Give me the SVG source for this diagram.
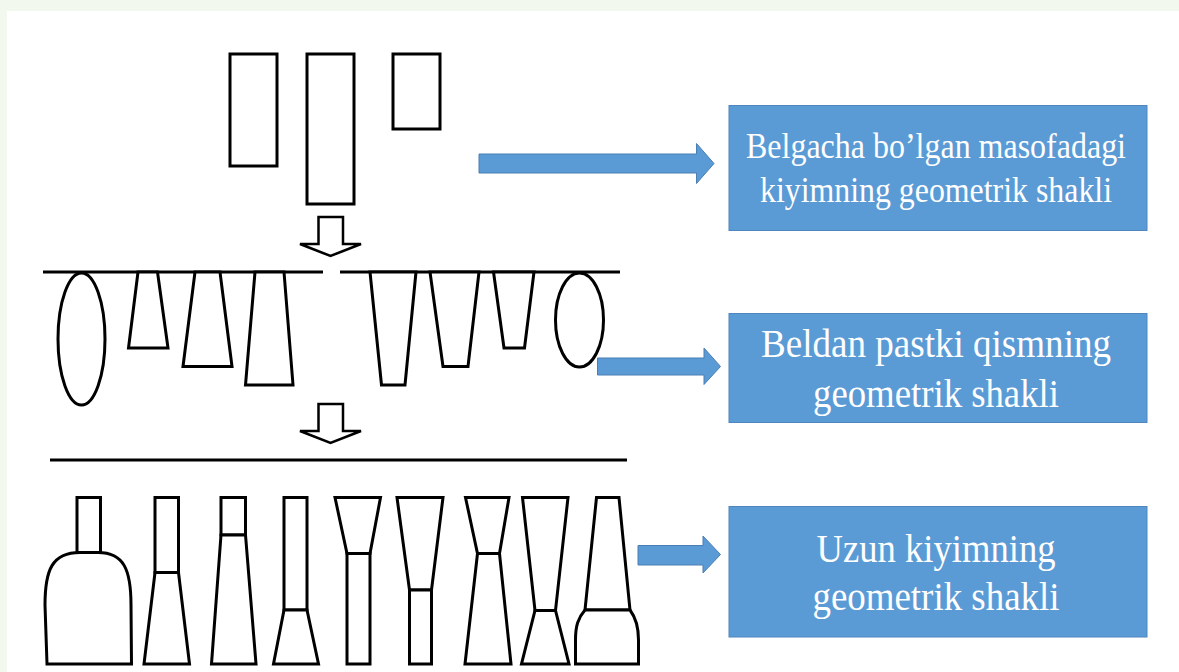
<svg xmlns="http://www.w3.org/2000/svg" width="1179" height="672" viewBox="0 0 1179 672">
<style>
.sh{fill:#fff;stroke:#000;stroke-width:3;stroke-linejoin:miter}
.ln{stroke:#000;stroke-width:3;fill:none}
.box{fill:#5B9BD5;stroke:#4F86BE;stroke-width:1}
.arr{fill:#5B9BD5;stroke:#4A7FB5;stroke-width:1}
.da{fill:#fff;stroke:#000;stroke-width:2.5;stroke-linejoin:miter}
.t{font-family:"Liberation Serif","Times New Roman",serif;fill:#fff;text-anchor:middle}
</style>
<rect x="0" y="0" width="1179" height="672" fill="#f3f8ee"/>
<rect x="7" y="11" width="1172" height="661" fill="#fff"/>

<g id="top-shapes">
<rect class="sh" x="230" y="54" width="47" height="112"/>
<rect class="sh" x="307" y="54" width="47" height="150"/>
<rect class="sh" x="393" y="54" width="47" height="75"/>
</g>

<g id="lower-shapes">
<line class="ln" x1="43" y1="272" x2="323" y2="272"/>
<line class="ln" x1="340" y1="272" x2="620" y2="272"/>
<ellipse class="sh" cx="81.5" cy="339" rx="23.5" ry="66"/>
<polygon class="sh" points="138,272 157.5,272 168,348 128.5,348"/>
<polygon class="sh" points="195,272 220,272 232,366.5 183,366.5"/>
<polygon class="sh" points="255,272 284,272 293,385 245.5,385"/>
<polygon class="sh" points="370,272 416,272 405,385 381.5,385"/>
<polygon class="sh" points="430,272 479,272 468,366.5 443,366.5"/>
<polygon class="sh" points="493.5,272 534,272 524.5,348 504,348"/>
<ellipse class="sh" cx="579.5" cy="320" rx="24" ry="47"/>
</g>

<g id="long-shapes">
<line class="ln" x1="50" y1="460" x2="627" y2="460"/>
<g id="s1">
<rect class="sh" x="77" y="497.5" width="23.5" height="55"/>
<path class="sh" d="M47,664 L45,605 C45,570 52,552.5 80,552.5 L98,552.5 C124,552.5 131,570 131,605 L131.5,664 Z"/>
</g>
<g id="s2">
<rect class="sh" x="155" y="497.5" width="23.5" height="75"/>
<polygon class="sh" points="155,572.5 178.5,572.5 189.5,664 144,664"/>
</g>
<g id="s3">
<rect class="sh" x="221" y="497.5" width="24.5" height="37.5"/>
<polygon class="sh" points="221,535 245.5,535 256,664 211.5,664"/>
</g>
<g id="s4">
<rect class="sh" x="284" y="497.5" width="23" height="112.5"/>
<polygon class="sh" points="284,610 307,610 318.5,664 273.5,664"/>
</g>
<g id="s5">
<polygon class="sh" points="335,497.5 380.5,497.5 370,553.5 347,553.5"/>
<rect class="sh" x="347" y="553.5" width="23" height="110.5"/>
</g>
<g id="s6">
<polygon class="sh" points="397,497.5 443,497.5 431.5,590 409.5,590"/>
<rect class="sh" x="409.5" y="590" width="22" height="74"/>
</g>
<g id="s7">
<polygon class="sh" points="465.5,497.5 509,497.5 499.5,553.5 477.5,553.5"/>
<polygon class="sh" points="477.5,553.5 499.5,553.5 511,664 465,664"/>
</g>
<g id="s8">
<polygon class="sh" points="522.5,497.5 568,497.5 555.5,610.5 535,610.5"/>
<polygon class="sh" points="535,610.5 555.5,610.5 569,664 521.5,664"/>
</g>
<g id="s9">
<polygon class="sh" points="596.5,497.5 619,497.5 630,610 585,610"/>
<path class="sh" d="M585,610 L630,610 C636,618 638.5,626 638.5,640 L638.5,664 L575.5,664 L575.5,640 C575.5,626 578,618 585,610 Z"/>
</g>
</g>

<g id="box1">
<rect class="box" x="729" y="105.5" width="418" height="125"/>
<text class="t" x="936" y="158" font-size="35" textLength="380" lengthAdjust="spacingAndGlyphs">Belgacha bo’lgan masofadagi</text>
<text class="t" x="936" y="202" font-size="35" textLength="352" lengthAdjust="spacingAndGlyphs">kiyimning geometrik shakli</text>
</g>
<g id="box2">
<rect class="box" x="729" y="313.5" width="418" height="109"/>
<text class="t" x="936" y="357" font-size="41" textLength="350" lengthAdjust="spacingAndGlyphs">Beldan pastki qismning</text>
<text class="t" x="936" y="407" font-size="41" textLength="246" lengthAdjust="spacingAndGlyphs">geometrik shakli</text>
</g>
<g id="box3">
<rect class="box" x="729" y="506.5" width="418" height="130.5"/>
<text class="t" x="936" y="562" font-size="41" textLength="239" lengthAdjust="spacingAndGlyphs">Uzun kiyimning</text>
<text class="t" x="936" y="610" font-size="41" textLength="247" lengthAdjust="spacingAndGlyphs">geometrik shakli</text>
</g>

<g id="connectors">
<polygon class="da" points="318.5,217 343,217 343,244 361,244 330.5,256 300,244 318.5,244"/>
<polygon class="da" points="318.5,404 343,404 343,431 361,431 330.5,443 300,431 318.5,431"/>
<polygon class="arr" points="479,154 696.5,154 696.5,143.5 714,163.5 696.5,183.5 696.5,173 479,173"/>
<polygon class="arr" points="597.5,358 704,358 704,348 720.5,366.5 704,384.5 704,375 597.5,375"/>
<polygon class="arr" points="638,545.5 703,545.5 703,536 720.5,554.5 703,573 703,565 638,565"/>
</g>
</svg>
